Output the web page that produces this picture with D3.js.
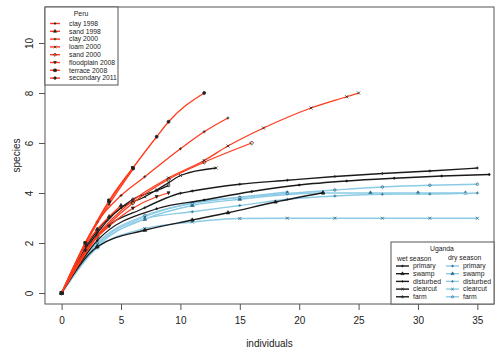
<!DOCTYPE html>
<html>
<head>
<meta charset="utf-8">
<script src="https://cdn.jsdelivr.net/npm/d3@7"></script>
<style>
  body { margin: 0; background: #fff; }
  svg { font-family: "Liberation Sans", Arial, sans-serif; }
</style>
</head>
<body>
<svg id="drawing_region"></svg>
<script>
// Peru rarefaction curves (red)
const peru_names = ["clay 1998", "sand 1998", "clay 2000", "loam 2000", "sand 2000",
                    "floodplain 2008", "terrace 2008", "secondary 2011"];
const peru_x = [
    [0, 2, 4, 6],
    [0, 2, 3, 4, 5],
    [0, 3, 5, 7, 10, 12, 14],
    [0, 3, 6, 9, 12, 14, 17, 21, 24, 25],
    [0, 3, 6, 9, 12, 16],
    [0, 2, 4, 6, 8, 9],
    [0, 2, 4, 6],
    [0, 2, 4, 6, 8, 9, 12]
];
const peru_y = [
    [0, 1.95, 3.55, 4.95],
    [0, 1.9, 2.55, 3.05, 3.5],
    [0, 2.85, 3.9, 4.65, 5.77, 6.45, 7.0],
    [0, 2.3, 3.7, 4.6, 5.3, 5.88, 6.6, 7.4, 7.85, 8.0],
    [0, 2.25, 3.6, 4.55, 5.23, 6.0],
    [0, 1.7, 2.67, 3.39, 3.85, 4.0],
    [0, 2.0, 3.7, 5.0],
    [0, 2.0, 3.65, 5.0, 6.25, 6.85, 8.0]
];

// Uganda curves
const uganda_names = ["primary", "swamp", "disturbed", "clearcut", "farm"];
const wet_x = [
    [0, 3, 8, 12, 16, 20, 24, 28, 32, 36],
    [0, 3, 7, 11, 14, 18, 22],
    [0, 3, 7, 10, 11, 15, 19, 23, 27, 31, 35],
    [0, 3, 5, 7, 8, 9, 10, 13],
    [0, 3, 6, 8, 9]
];
const wet_y = [
    [0, 2.1, 3.37, 3.72, 4.06, 4.32, 4.48, 4.59, 4.68, 4.74],
    [0, 1.85, 2.51, 2.92, 3.21, 3.64, 4.01],
    [0, 2.28, 3.41, 3.99, 4.08, 4.35, 4.51, 4.66, 4.78, 4.88, 5.0],
    [0, 2.5, 3.4, 3.85, 4.12, 4.41, 4.7, 5.0],
    [0, 2.4, 3.75, 4.1, 4.3]
];
const dry_x = [
    [0, 3, 7, 11, 15, 19],
    [0, 3, 7, 11, 15, 22, 26, 30, 34],
    [0, 3, 7, 11, 15, 19, 23, 27, 31, 35],
    [0, 3, 7, 11, 15, 19, 23, 27, 31, 35],
    [0, 3, 7, 11, 15, 19, 23, 27, 31, 35]
];
const dry_y = [
    [0, 1.95, 3.05, 3.6, 3.83, 4.04],
    [0, 1.9, 2.95, 3.5, 3.75, 4.0, 4.0, 4.0, 4.0],
    [0, 1.85, 2.97, 3.25, 3.5, 3.75, 3.88, 3.95, 3.96, 4.0],
    [0, 1.8, 2.58, 2.84, 2.98, 2.99, 2.99, 2.99, 2.99, 2.99],
    [0, 2.0, 3.1, 3.58, 3.82, 3.98, 4.12, 4.24, 4.31, 4.35]
];

const x_ticks = [0, 5, 10, 15, 20, 25, 30, 35];
const y_ticks = [0, 2, 4, 6, 8, 10];

const config = {
    width: 500,
    height: 354,
    margin: {top: 7, right: 6, bottom: 50, left: 45}
};

const RED = "#ff3a1a", BLUE = "#8ccbe6", BLACK = "#1a1a1a";

const svg = d3.select("#drawing_region")
    .attr("width", config.width)
    .attr("height", config.height);

const inner_width = config.width - config.margin.left - config.margin.right;
const inner_height = config.height - config.margin.top - config.margin.bottom;

const chart = svg.append("g")
    .attr("transform", `translate(${config.margin.left}, ${config.margin.top})`);

// R style: 4% padding around the data range
const xscale = d3.scaleLinear().domain([-1.4, 36.4]).range([0, inner_width]);
const yscale = d3.scaleLinear().domain([-0.44, 11.44]).range([inner_height, 0]);

// marker shapes (R pch-like)
function marker(type, s) {
    switch (type) {
        case "dot": return d3.symbol(d3.symbolCircle, s * s * 1.2)();
        case "circle": return d3.symbol(d3.symbolCircle, s * s * 2.2)();
        case "triangle": return d3.symbol(d3.symbolTriangle, s * s * 2.6)();
        case "plus": return `M${-s},0H${s}M0,${-s}V${s}`;
        case "x": return `M${-s},${-s}L${s},${s}M${-s},${s}L${s},${-s}`;
        case "diamond": return `M0,${-s * 1.3}L${s * 1.3},0L0,${s * 1.3}L${-s * 1.3},0Z`;
        case "itriangle": return `M${-s},${-s * 0.8}L${s},${-s * 0.8}L0,${s}Z`;
        case "square": return `M${-s},${-s}H${s}V${s}H${-s}Z`;
        case "fcircle": return d3.symbol(d3.symbolCircle, s * s * 3)();
    }
}
const peru_marks = ["dot", "triangle", "plus", "x", "diamond", "itriangle", "square", "fcircle"];
const uganda_marks = ["dot", "triangle", "plus", "x", "circle"];
const filled = t => ["dot", "triangle", "itriangle", "square", "fcircle"].includes(t);

const line = d3.line()
    .x(d => xscale(d[0]))
    .y(d => yscale(d[1]))
    .curve(d3.curveMonotoneX);

function drawGroup(xs, ys, marks, color, mcolor) {
    xs.forEach((xv, i) => {
        const pts = xv.map((v, j) => [v, ys[i][j]]);
        chart.append("path")
            .attr("d", line(pts))
            .attr("fill", "none")
            .attr("stroke", color)
            .attr("stroke-width", 1.3);
        chart.selectAll(null)
            .data(pts)
            .enter()
            .append("path")
            .attr("transform", d => `translate(${xscale(d[0])},${yscale(d[1])})`)
            .attr("d", marker(marks[i], 1.5))
            .attr("fill", filled(marks[i]) ? mcolor : "none")
            .attr("stroke", mcolor)
            .attr("stroke-width", 0.8);
    });
}

drawGroup(dry_x, dry_y, uganda_marks, BLUE, "#2c6a86");
drawGroup(wet_x, wet_y, uganda_marks, BLACK, BLACK);
drawGroup(peru_x, peru_y, peru_marks, RED, "#222");

// box
chart.append("rect")
    .attr("width", inner_width)
    .attr("height", inner_height)
    .attr("fill", "none")
    .attr("stroke", "#555")
    .attr("stroke-width", 1);

// axes
const xaxis = d3.axisBottom(xscale).tickValues(x_ticks).tickSize(6).tickPadding(7);
const yaxis = d3.axisLeft(yscale).tickValues(y_ticks).tickSize(6).tickPadding(7);

const xaxis_group = chart.append("g")
    .attr("transform", `translate(0, ${inner_height})`)
    .call(xaxis);
xaxis_group.select(".domain").remove();
xaxis_group.selectAll("line").attr("stroke", "#555");
xaxis_group.selectAll("text").attr("font-size", 10).attr("fill", "#222").attr("font-family", null);

const yaxis_group = chart.append("g").call(yaxis);
yaxis_group.select(".domain").remove();
yaxis_group.selectAll("line").attr("stroke", "#555");
yaxis_group.selectAll("text")
    .attr("font-size", 10).attr("fill", "#222").attr("font-family", null)
    .attr("text-anchor", "middle")
    .attr("dy", null)
    .attr("x", 0)
    .attr("transform", "translate(-15,0) rotate(-90)")
    .attr("y", 0)
    .attr("dominant-baseline", "middle");

svg.append("text")
    .attr("x", config.margin.left + inner_width / 2)
    .attr("y", 347)
    .attr("text-anchor", "middle")
    .attr("font-size", 10)
    .attr("fill", "#222")
    .text("individuals");

svg.append("text")
    .attr("transform", `translate(20, ${config.margin.top + inner_height / 2}) rotate(-90)`)
    .attr("text-anchor", "middle")
    .attr("font-size", 10)
    .attr("fill", "#222")
    .text("species");

// Peru legend
const peru_leg = chart.append("g");
peru_leg.append("rect")
    .attr("width", 73).attr("height", 78)
    .attr("fill", "#fff").attr("stroke", "#555");
peru_leg.append("text")
    .attr("x", 36).attr("y", 8.5)
    .attr("text-anchor", "middle")
    .attr("font-size", 6.8).attr("fill", "#222")
    .text("Peru");
peru_names.forEach((n, i) => {
    const y = 16.5 + i * 7.8;
    peru_leg.append("line")
        .attr("x1", 5).attr("x2", 15).attr("y1", y).attr("y2", y)
        .attr("stroke", RED).attr("stroke-width", 1.4);
    peru_leg.append("path")
        .attr("transform", `translate(10,${y})`)
        .attr("d", marker(peru_marks[i], 1.3))
        .attr("fill", filled(peru_marks[i]) ? "#222" : "none")
        .attr("stroke", "#222").attr("stroke-width", 0.7);
    peru_leg.append("text")
        .attr("x", 24).attr("y", y + 2.3)
        .attr("font-size", 6.8).attr("fill", "#222")
        .text(n);
});

// Uganda legend
const ug_leg = chart.append("g")
    .attr("transform", `translate(${xscale(36.4) - 103}, ${inner_height - 62})`);
ug_leg.append("rect")
    .attr("width", 103).attr("height", 62)
    .attr("fill", "#fff").attr("stroke", "#555");
ug_leg.append("text")
    .attr("x", 51).attr("y", 9)
    .attr("text-anchor", "middle")
    .attr("font-size", 6.8).attr("fill", "#222")
    .text("Uganda");
ug_leg.append("text")
    .attr("x", 6).attr("y", 18.5)
    .attr("font-size", 6.8).attr("fill", "#222")
    .text("wet season");
ug_leg.append("text")
    .attr("x", 57).attr("y", 18)
    .attr("font-size", 6.8).attr("fill", "#222")
    .text("dry season");
uganda_names.forEach((n, i) => {
    const y = 24 + i * 7.7;
    [[5, BLACK, BLACK], [55, BLUE, "#2c6a86"]].forEach(([x0, c, mc]) => {
        ug_leg.append("line")
            .attr("x1", x0).attr("x2", x0 + 13).attr("y1", y).attr("y2", y)
            .attr("stroke", c).attr("stroke-width", 1.4);
        ug_leg.append("path")
            .attr("transform", `translate(${x0 + 6.5},${y})`)
            .attr("d", marker(uganda_marks[i], 1.3))
            .attr("fill", filled(uganda_marks[i]) ? mc : "none")
            .attr("stroke", mc).attr("stroke-width", 0.7);
        ug_leg.append("text")
            .attr("x", x0 + 17).attr("y", y + 2.3)
            .attr("font-size", 6.8).attr("fill", "#222")
            .text(n);
    });
});
</script>
</body>
</html>
